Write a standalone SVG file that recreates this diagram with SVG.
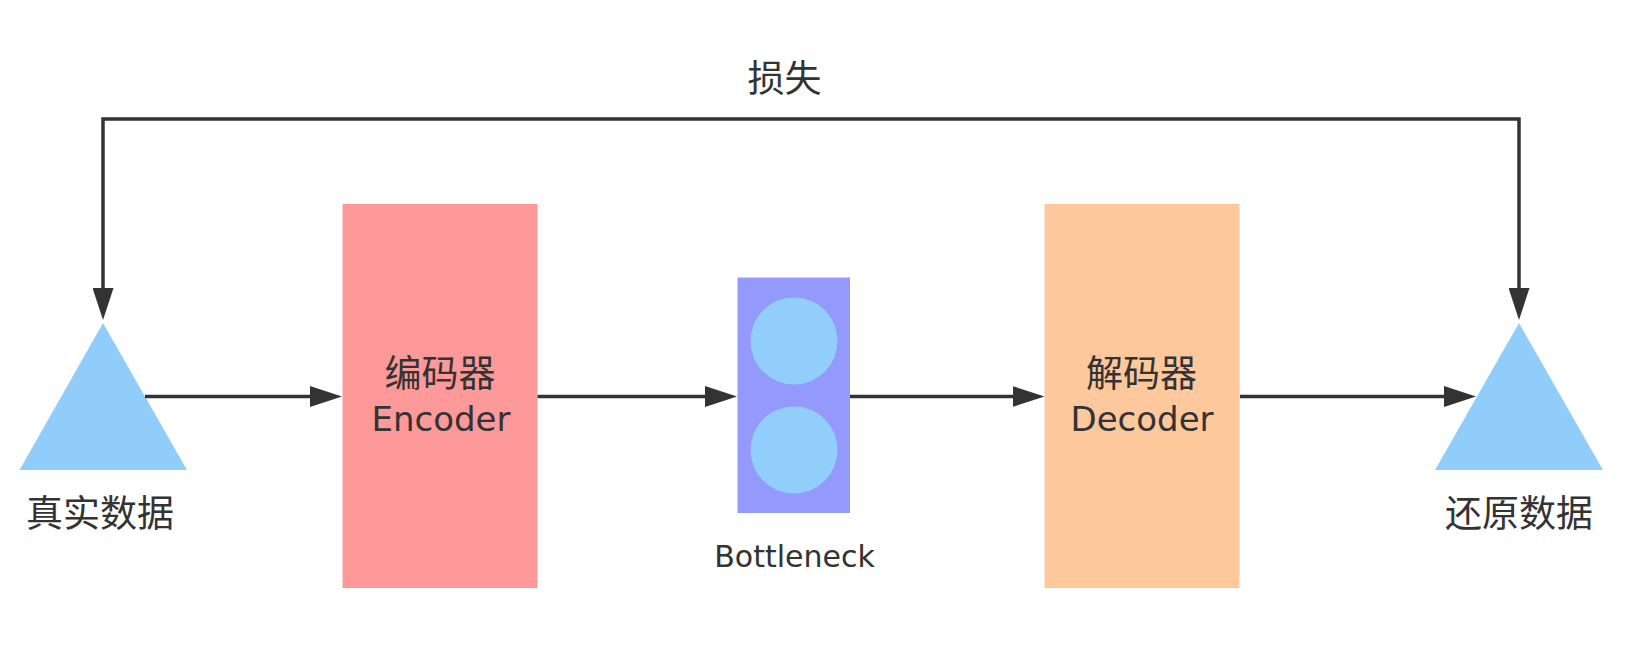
<svg xmlns="http://www.w3.org/2000/svg" width="1643" height="672" viewBox="0 0 1643 672">
<style>
.cjk{font-family:"Noto Sans CJK SC","Noto Sans",sans-serif;font-size:37px;fill:#333333;text-anchor:middle}
.lat{font-family:"DejaVu Sans","Liberation Sans",sans-serif;fill:#333333;text-anchor:middle}
.conn{fill:none;stroke:#333333;stroke-width:3.5;marker-end:url(#ah)}
.tri{fill:#91CDFB}
</style>
<defs>
<marker id="ah" viewBox="0 0 32 21" refX="22" refY="10.5" markerWidth="32" markerHeight="21" markerUnits="userSpaceOnUse" orient="auto-start-reverse">
<path d="M0,0 L32,10.5 L0,21 Z" fill="#333333"/>
</marker>
</defs>
<rect width="1643" height="672" fill="#ffffff"/>
<g id="loss-label"><text class="cjk" x="784.5" y="92">损失</text></g>
<g id="real-data">
<polygon class="tri" points="103,323 19.5,470 187,470"/>
<text class="cjk" x="100" y="527">真实数据</text>
</g>
<g id="encoder">
<rect x="342.5" y="204" width="195" height="384" fill="#FE999A"/>
<text class="cjk" x="440" y="387">编码器</text>
<text class="lat" x="441" y="431" font-size="34">Encoder</text>
</g>
<g id="bottleneck">
<rect x="737.5" y="277.5" width="112.5" height="235.5" fill="#949AFC"/>
<circle cx="794" cy="341" r="43.5" fill="#92CEFC"/>
<circle cx="794" cy="450" r="43.5" fill="#92CEFC"/>
<text class="lat" x="794.5" y="567" font-size="30">Bottleneck</text>
</g>
<g id="decoder">
<rect x="1044.5" y="204" width="195" height="384" fill="#FEC89D"/>
<text class="cjk" x="1141.5" y="387">解码器</text>
<text class="lat" x="1142" y="431" font-size="34">Decoder</text>
</g>
<g id="restored-data">
<polygon class="tri" points="1519,323 1435,470 1603,470"/>
<text class="cjk" x="1519" y="527">还原数据</text>
</g>
<g id="connectors">
<path class="conn" d="M103,310 L103,119 L1519,119 L1519,310" style="marker-start:url(#ah)"/>
<path class="conn" d="M145,396.5 L332,396.5"/>
<path class="conn" d="M537.5,396.5 L727,396.5"/>
<path class="conn" d="M850,396.5 L1034.5,396.5"/>
<path class="conn" d="M1240,396.5 L1466,396.5"/>
</g>
</svg>
